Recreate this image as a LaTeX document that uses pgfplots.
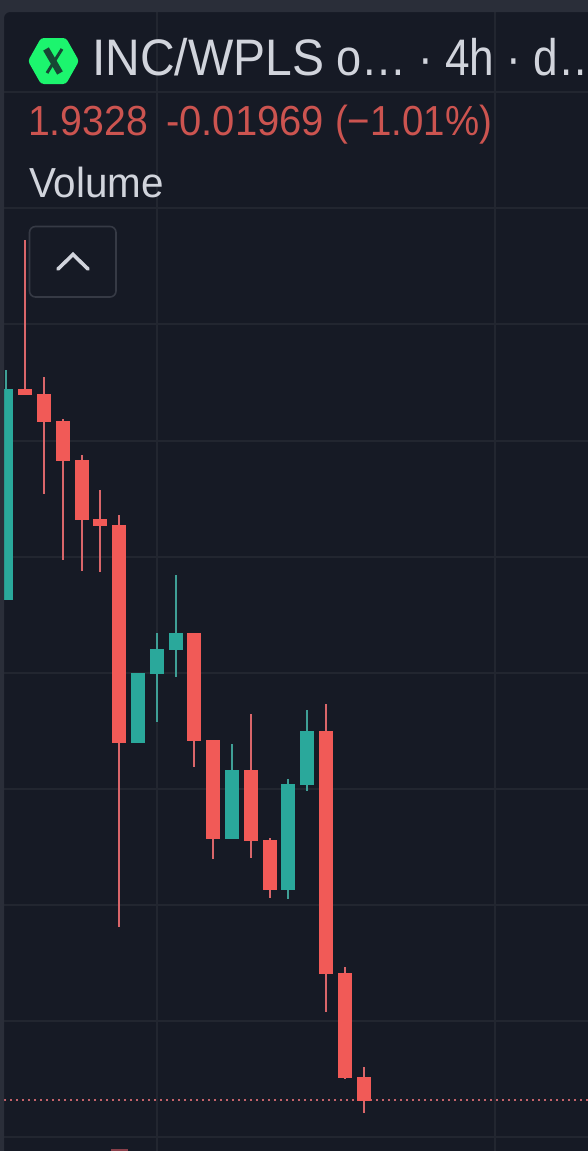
\documentclass[border=0pt]{standalone}
\usepackage{fontspec}
\setmainfont{Liberation Sans}
\usepackage{graphicx}
\usepackage{pgfplots}
\usepackage{pgfplotstable}
\pgfplotsset{compat=1.18}

\definecolor{bg}{HTML}{161A25}
\definecolor{band}{HTML}{2A2E39}
\definecolor{gridc}{HTML}{222630}
\definecolor{upbody}{HTML}{2AA89B}
\definecolor{upwick}{HTML}{3F9F96}
\definecolor{downbody}{HTML}{F15A57}
\definecolor{downwick}{HTML}{D9666A}
\definecolor{txt}{HTML}{D1D4DC}
\definecolor{redtxt}{HTML}{CC5450}
\definecolor{btn}{HTML}{363A45}
\definecolor{hexg}{HTML}{1CF56E}
\definecolor{priceline}{HTML}{C4626A}
\definecolor{volbar}{HTML}{8A3F4A}

% y runs downward, same scale as the picture
\pgfplotstableread{
x hi top bot lo
25 240 389 395 395
44 377 394 422 494
63 419 421 461 560
82 455 460 520 571
100 490 519 526 572
119 515 525 743 927
194 633 633 741 767
213 740 740 839 859
251 714 770 841 858
270 838 840 890 898
326 704 731 974 1012
345 967 973 1078 1079
364 1067 1077 1101 1113
}\downcandles
\pgfplotstableread{
x hi top bot lo
6 370 389 600 600
138 673 673 743 743
157 633 649 674 722
176 575 633 650 677
232 744 770 839 839
288 779 784 890 899
307 710 731 785 791
}\upcandles

% colour, x, baseline, x stretch, text
\newcommand{\bigtxt}[5]{\node[anchor=base west,inner sep=0pt,text=#1] at (axis cs:#2,#3) {\fontsize{48}{50}\selectfont\scalebox{#4}[1.07]{#5}};}
\newcommand{\smalltxt}[5]{\node[anchor=base west,inner sep=0pt,text=#1] at (axis cs:#2,#3) {\fontsize{40}{42}\selectfont\scalebox{#4}[1.05]{#5}};}

\begin{document}
\begin{tikzpicture}
\begin{axis}[
    scale only axis,
    width=588pt, height=1151pt,
    xmin=0, xmax=588, ymin=0, ymax=1151,
    y dir=reverse,
    axis background/.style={fill=bg},
    axis line style={draw=none},
    major tick length=0pt,
    xtick={157,495},
    ytick={92,208,324,441,557,673,789,905,1021,1137},
    xticklabels={}, yticklabels={},
    grid=major,
    grid style={gridc,line width=1.6pt},
]
\coordinate (bl) at (axis cs:0,1151);
\coordinate (tr) at (axis cs:588,0);
% last price line
\addplot[priceline,line width=2pt,dash pattern=on 2pt off 4pt] coordinates {(4,1100) (588,1100)};
% volume pane, only the tip of one bar shows
\addplot[volbar,line width=17pt] coordinates {(119.5,1149) (119.5,1151)};
% wicks
\addplot[draw=none,mark=none,error bars/.cd,y dir=both,y explicit,error mark=none,
    error bar style={downwick,line width=2.8pt}]
    table[x=x,y=top,y error plus expr=\thisrow{lo}-\thisrow{top},y error minus expr=\thisrow{top}-\thisrow{hi}] {\downcandles};
\addplot[draw=none,mark=none,error bars/.cd,y dir=both,y explicit,error mark=none,
    error bar style={upwick,line width=2.8pt}]
    table[x=x,y=top,y error plus expr=\thisrow{lo}-\thisrow{top},y error minus expr=\thisrow{top}-\thisrow{hi}] {\upcandles};
% bodies
\addplot[draw=none,mark=none,error bars/.cd,y dir=plus,y explicit,error mark=none,
    error bar style={downbody,line width=14pt}]
    table[x=x,y=top,y error plus expr=\thisrow{bot}-\thisrow{top}] {\downcandles};
\addplot[draw=none,mark=none,error bars/.cd,y dir=plus,y explicit,error mark=none,
    error bar style={upbody,line width=14pt}]
    table[x=x,y=top,y error plus expr=\thisrow{bot}-\thisrow{top}] {\upcandles};

% pane edge
\fill[band,even odd rule] (axis cs:0,0) rectangle (axis cs:588,1151)
    [rounded corners=6pt] (axis cs:4,12) rectangle (axis cs:700,1250);

% legend rows
\fill[hexg,rounded corners=3pt] (axis cs:28,61) -- (axis cs:41,38) -- (axis cs:66,38)
    -- (axis cs:79,61) -- (axis cs:66,84) -- (axis cs:41,84) -- cycle;
\draw[bg!80!hexg,line width=6.5pt] (axis cs:46,49) -- (axis cs:60,73);
\draw[bg!80!hexg,line width=3pt] (axis cs:62,49) -- (axis cs:47,73);
\bigtxt{txt}{92}{75}{1.0}{INC/WPLS}
\bigtxt{txt}{336}{75}{.94}{o…}
\bigtxt{txt}{418}{75}{.92}{· 4h · d…}
\smalltxt{redtxt}{28}{135}{.98}{1.9328}
\smalltxt{redtxt}{166}{135}{1.0}{-0.01969}
\smalltxt{redtxt}{335}{135}{.96}{(−1.01\%)}
\smalltxt{txt}{29}{197}{1.01}{Volume}

% collapse button
\draw[btn,fill=bg,line width=1.6pt,rounded corners=6pt] (axis cs:29.5,226.5) rectangle (axis cs:116,297);
\draw[txt,line width=3.6pt,line cap=round] (axis cs:58,269) -- (axis cs:73,254.5) -- (axis cs:88,269);
\end{axis}
\pgfresetboundingbox
\path[use as bounding box] (bl) rectangle (tr);
\end{tikzpicture}
\end{document}
